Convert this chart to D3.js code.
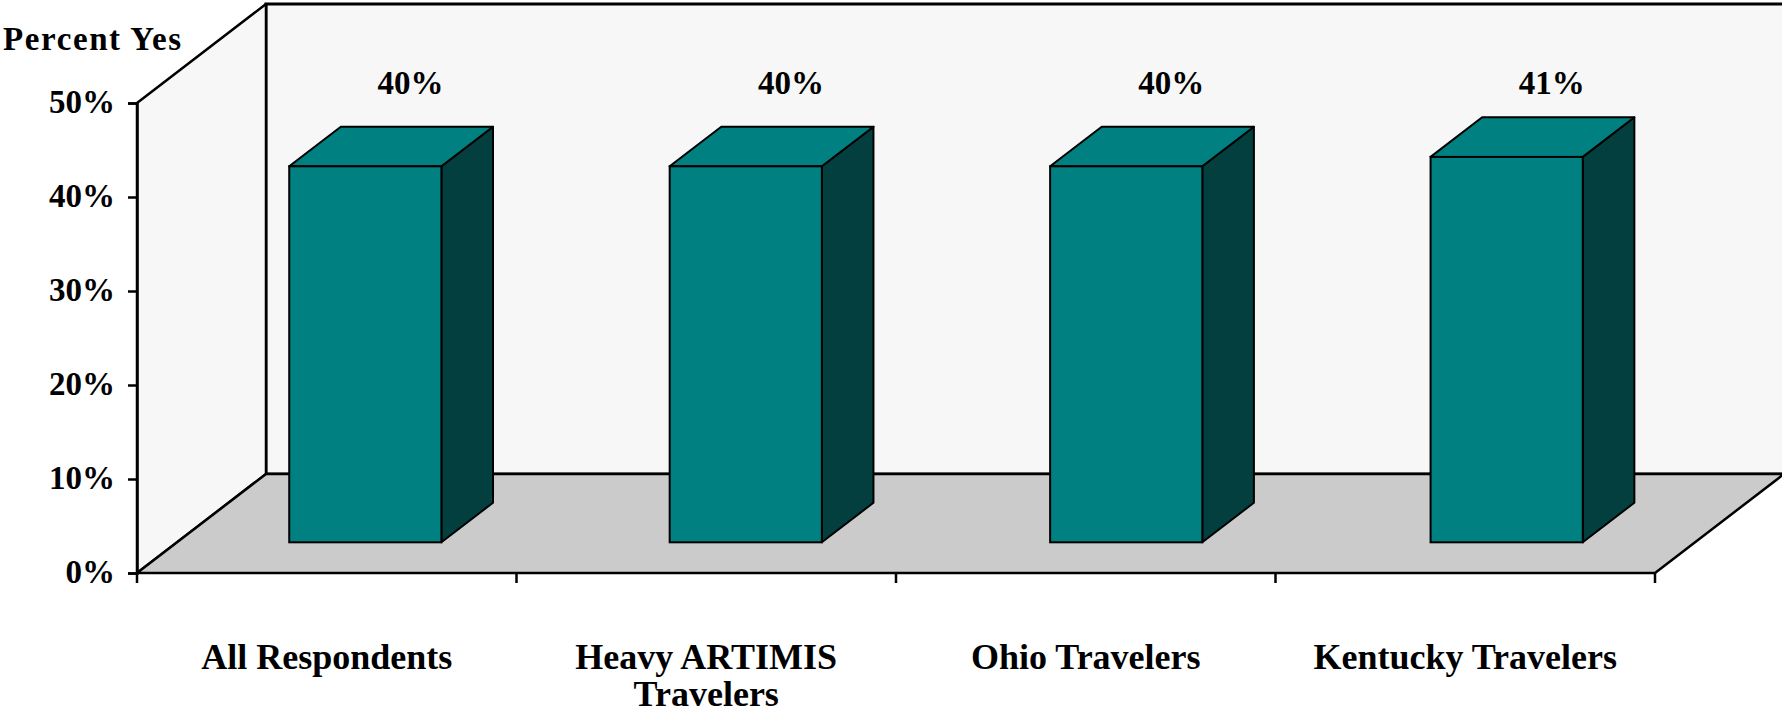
<!DOCTYPE html>
<html>
<head>
<meta charset="utf-8">
<script src="https://cdn.jsdelivr.net/npm/d3@7"></script>
<style>
  html, body { margin: 0; padding: 0; background: #ffffff; }
  svg { display: block; }
  text { font-family: "Liberation Serif", "Times New Roman", serif; font-weight: bold; fill: #000; }
</style>
</head>
<body>
<svg id="chart" width="1782" height="714"></svg>
<script>
// Survey results: share answering "yes", by respondent group
const categories = ["All Respondents", "Heavy ARTIMIS Travelers", "Ohio Travelers", "Kentucky Travelers"];
const percentYes = [40, 40, 40, 41];
const valueTicks = [0, 10, 20, 30, 40, 50];
const axisTitle = "Percent Yes";

const W = 1782, H = 714;
const svg = d3.select("#chart");

// Front plane of the 3-D box and the oblique depth vector
const x0 = 137, x1 = 1655;
const yBottom = 573, yTop = 103;
const depth = { dx: 129, dy: -99 };
const barZ0 = 0.31, barZ1 = 0.71;   // bar occupies this slice of the depth

const y = d3.scaleLinear().domain([0, 50]).range([yBottom, yTop]);
const x = d3.scaleBand().domain(categories).range([x0, x1])
  .paddingInner(0.6).paddingOuter(0.295);
const edges = d3.scaleLinear().domain([0, categories.length]).range([x0, x1]);

// project a front-plane point back by depth fraction z
const P = (px, py, z) => [px + z * depth.dx, py + z * depth.dy];
const poly = pts => pts.map(p => p.join(",")).join(" ");

const g = svg.append("g");

// back wall
g.append("polygon")
  .attr("points", poly([P(x0, yTop, 1), [W + 10, yTop + depth.dy], [W + 10, yBottom + depth.dy], P(x0, yBottom, 1)]))
  .attr("fill", "#f7f7f7").attr("stroke", "none");
g.append("polyline")
  .attr("points", poly([[W + 10, yTop + depth.dy], P(x0, yTop, 1), P(x0, yBottom, 1), [W + 10, yBottom + depth.dy]]))
  .attr("fill", "none").attr("stroke", "#000").attr("stroke-width", 3);

// left side wall
g.append("polygon")
  .attr("points", poly([[x0, yBottom], [x0, yTop], P(x0, yTop, 1), P(x0, yBottom, 1)]))
  .attr("fill", "#f7f7f7").attr("stroke", "#000").attr("stroke-width", 2.5)
  .attr("stroke-linejoin", "round");

// floor
g.append("polygon")
  .attr("points", poly([[x0, yBottom], [x1, yBottom], P(x1, yBottom, 1), P(x0, yBottom, 1)]))
  .attr("fill", "#cbcbcb").attr("stroke", "#000").attr("stroke-width", 2.5)
  .attr("stroke-linejoin", "round");

// value axis on the front-left edge
const yAxis = d3.axisLeft(y)
  .tickValues(valueTicks)
  .tickSize(9)
  .tickPadding(13)
  .tickFormat(d => d + "%");
const ya = svg.append("g").attr("transform", `translate(${x0},0)`).call(yAxis);
ya.select(".domain").attr("stroke", "#000").attr("stroke-width", 2.5);
ya.selectAll(".tick line").attr("stroke", "#000").attr("stroke-width", 2.5);
ya.selectAll(".tick text")
  .attr("font-size", 33).attr("font-family", null)
  .attr("dy", "0.3em");

// category dividers along the front bottom edge
svg.append("g").selectAll("line")
  .data(d3.range(categories.length + 1))
  .join("line")
  .attr("x1", d => edges(d)).attr("x2", d => edges(d))
  .attr("y1", yBottom).attr("y2", yBottom + 10)
  .attr("stroke", "#000").attr("stroke-width", 2.5);

// 3-D columns
const bars = svg.append("g").selectAll("g")
  .data(categories.map((c, i) => ({ c, v: percentYes[i] })))
  .join("g");
const dz = barZ1 - barZ0;
bars.each(function (d) {
  const gb = d3.select(this);
  const [fl, fb] = P(x(d.c), y(0), barZ0);
  const [, ft] = P(x(d.c), y(d.v), barZ0);
  const fr = fl + x.bandwidth();
  const ox = dz * depth.dx, oy = dz * depth.dy;
  // right side
  gb.append("polygon")
    .attr("points", poly([[fr, fb], [fr, ft], [fr + ox, ft + oy], [fr + ox, fb + oy]]))
    .attr("fill", "#033f3f").attr("stroke", "#000").attr("stroke-width", 2).attr("stroke-linejoin", "round");
  // top
  gb.append("polygon")
    .attr("points", poly([[fl, ft], [fr, ft], [fr + ox, ft + oy], [fl + ox, ft + oy]]))
    .attr("fill", "#008080").attr("stroke", "#000").attr("stroke-width", 2).attr("stroke-linejoin", "round");
  // front
  gb.append("rect")
    .attr("x", fl).attr("y", ft).attr("width", fr - fl).attr("height", fb - ft)
    .attr("fill", "#008080").attr("stroke", "#000").attr("stroke-width", 2);
});

// value labels above the columns
svg.append("g").selectAll("text")
  .data(categories.map((c, i) => ({ c, v: percentYes[i] })))
  .join("text")
  .attr("x", d => x(d.c) + x.bandwidth() / 2 + 0.66 * depth.dx)
  .attr("y", 94)
  .attr("text-anchor", "middle")
  .attr("font-size", 33)
  .text(d => d.v + "%");

// category labels, wrapped to fit under each slot
const maxLabelWidth = 340;
const catLabels = svg.append("g").selectAll("text")
  .data(categories)
  .join("text")
  .attr("text-anchor", "middle")
  .attr("font-size", 36)
  .attr("x", (d, i) => (edges(i) + edges(i + 1)) / 2)
  .attr("y", 669);
catLabels.each(function (d) {
  const t = d3.select(this);
  const words = d.split(" ");
  let lines = [], line = [];
  const probe = t.append("tspan");
  words.forEach(w => {
    const trial = line.concat(w).join(" ");
    probe.text(trial);
    if (probe.node().getComputedTextLength() > maxLabelWidth && line.length) {
      lines.push(line.join(" "));
      line = [w];
    } else {
      line.push(w);
    }
  });
  lines.push(line.join(" "));
  probe.remove();
  const cx = t.attr("x");
  lines.forEach((l, k) => {
    t.append("tspan").attr("x", cx).attr("dy", k === 0 ? 0 : 37).text(l);
  });
});

// axis title
svg.append("text")
  .attr("x", 3).attr("y", 50)
  .attr("font-size", 33)
  .attr("letter-spacing", 1.6)
  .text(axisTitle);
</script>
</body>
</html>
